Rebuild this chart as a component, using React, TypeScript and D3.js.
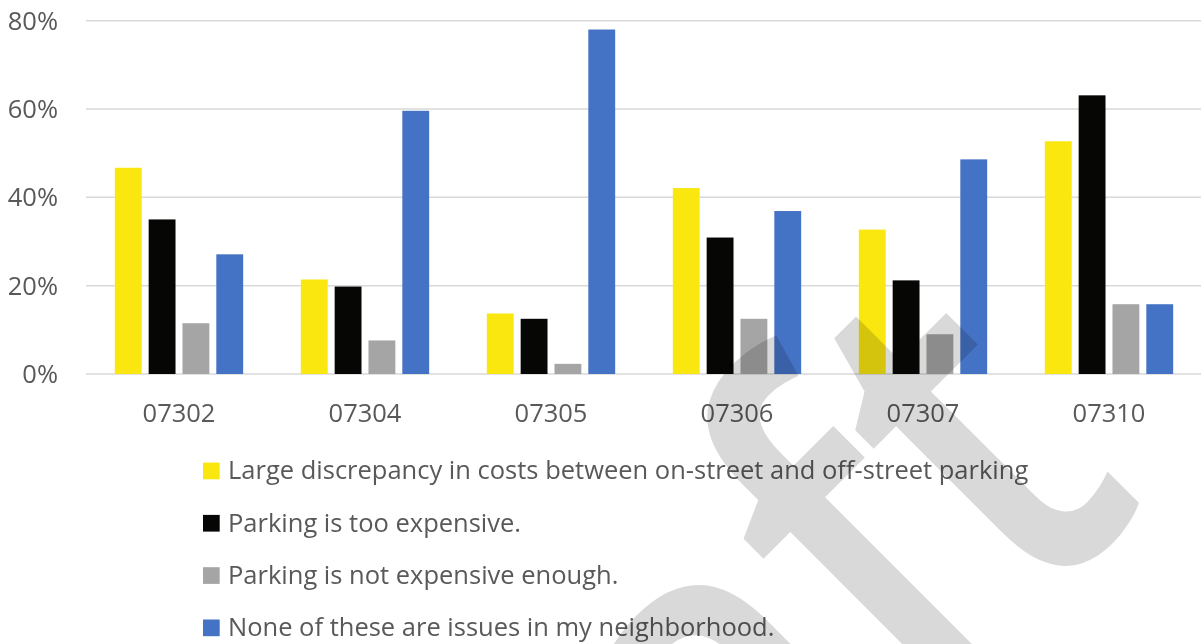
import { useRef, useEffect } from "react";
import * as d3 from "d3";

const zipCodes = ["07302", "07304", "07305", "07306", "07307", "07310"];

const seriesNames = [
  "Large discrepancy in costs between on-street and off-street parking",
  "Parking is too expensive.",
  "Parking is not expensive enough.",
  "None of these are issues in my neighborhood.",
];

const costGap = [0.467, 0.214, 0.137, 0.421, 0.327, 0.527];
const tooExpensive = [0.35, 0.198, 0.125, 0.309, 0.212, 0.631];
const notExpensive = [0.115, 0.076, 0.023, 0.125, 0.09, 0.158];
const noneIssues = [0.271, 0.596, 0.78, 0.369, 0.486, 0.158];

const yTicks = [0, 0.2, 0.4, 0.6, 0.8];

const COLORS = ["#F9E70F", "#060605", "#A5A5A5", "#4472C4"];
const TEXT = "#595959";
const GRID = "#D9D9D9";
const FONT = "'Open Sans', 'Noto Sans', sans-serif";

export default function App() {
  const svgRef = useRef<SVGSVGElement>(null);
  const width = 1201;
  const height = 644;

  useEffect(() => {
    if (!svgRef.current) return;
    const svg = d3.select(svgRef.current);
    svg.selectAll("*").remove();

    const plot = { left: 86, right: 1202, top: 20.7, bottom: 374 };
    const values = [costGap, tooExpensive, notExpensive, noneIssues];

    const x = d3
      .scaleBand<string>()
      .domain(zipCodes)
      .range([plot.left, plot.right])
      .paddingInner(0.31)
      .paddingOuter(0.155);

    const xi = d3
      .scaleBand<number>()
      .domain(d3.range(seriesNames.length))
      .range([0, x.bandwidth()])
      .paddingInner(0.206)
      .paddingOuter(0);

    const y = d3.scaleLinear().domain([0, 0.8]).range([plot.bottom, plot.top]);

    // grid
    svg
      .append("g")
      .selectAll("line")
      .data(yTicks)
      .enter()
      .append("line")
      .attr("x1", plot.left)
      .attr("x2", width)
      .attr("y1", (d) => y(d))
      .attr("y2", (d) => y(d))
      .attr("stroke", GRID)
      .attr("stroke-width", 1.5);

    // y labels
    svg
      .append("g")
      .selectAll("text")
      .data(yTicks)
      .enter()
      .append("text")
      .attr("x", 58)
      .attr("y", (d) => y(d) + 9)
      .attr("text-anchor", "end")
      .attr("fill", TEXT)
      .attr("font-family", FONT)
      .attr("font-size", "25.5px")
      .text((d) => d3.format(".0%")(d));

    // bars
    const groups = svg
      .append("g")
      .selectAll("g")
      .data(zipCodes)
      .enter()
      .append("g")
      .attr("transform", (d) => `translate(${x(d)},0)`);

    groups
      .selectAll("rect")
      .data((_, ci) => values.map((s, si) => ({ si, v: s[ci] })))
      .enter()
      .append("rect")
      .attr("x", (d) => xi(d.si)!)
      .attr("width", xi.bandwidth())
      .attr("y", (d) => y(d.v))
      .attr("height", (d) => y(0) - y(d.v))
      .attr("fill", (d) => COLORS[d.si]);

    // x labels
    svg
      .append("g")
      .selectAll("text")
      .data(zipCodes)
      .enter()
      .append("text")
      .attr("x", (d) => x(d)! + x.bandwidth() / 2)
      .attr("y", 422)
      .attr("text-anchor", "middle")
      .attr("fill", TEXT)
      .attr("font-family", FONT)
      .attr("font-size", "25.5px")
      .text((d) => d);

    // legend
    const legend = svg
      .append("g")
      .selectAll("g")
      .data(seriesNames)
      .enter()
      .append("g")
      .attr("transform", (_, i) => `translate(203,${479.3 + i * 52.3})`);

    legend
      .append("rect")
      .attr("x", 0)
      .attr("y", -16.7)
      .attr("width", 16.7)
      .attr("height", 16.7)
      .attr("fill", (_, i) => COLORS[i]);

    legend
      .append("text")
      .attr("x", 25)
      .attr("y", 0)
      .attr("fill", TEXT)
      .attr("font-family", FONT)
      .attr("font-size", "25.5px")
      .text((d) => d);

    // watermark
    svg
      .append("text")
      .attr("transform", "translate(1151,498) rotate(-45) scale(0.84,1)")
      .attr("text-anchor", "end")
      .attr("fill", "#D9D9D9")
      .attr("font-family", FONT)
      .attr("font-weight", 600)
      .attr("font-size", "510px")
      .style("mix-blend-mode", "multiply")
      .text("Draft");
  }, []);

  return (
    <svg
      ref={svgRef}
      width={width}
      height={height}
      viewBox={`0 0 ${width} ${height}`}
      style={{ position: "absolute", left: 0, top: 0, background: "#fff" }}
    />
  );
}
